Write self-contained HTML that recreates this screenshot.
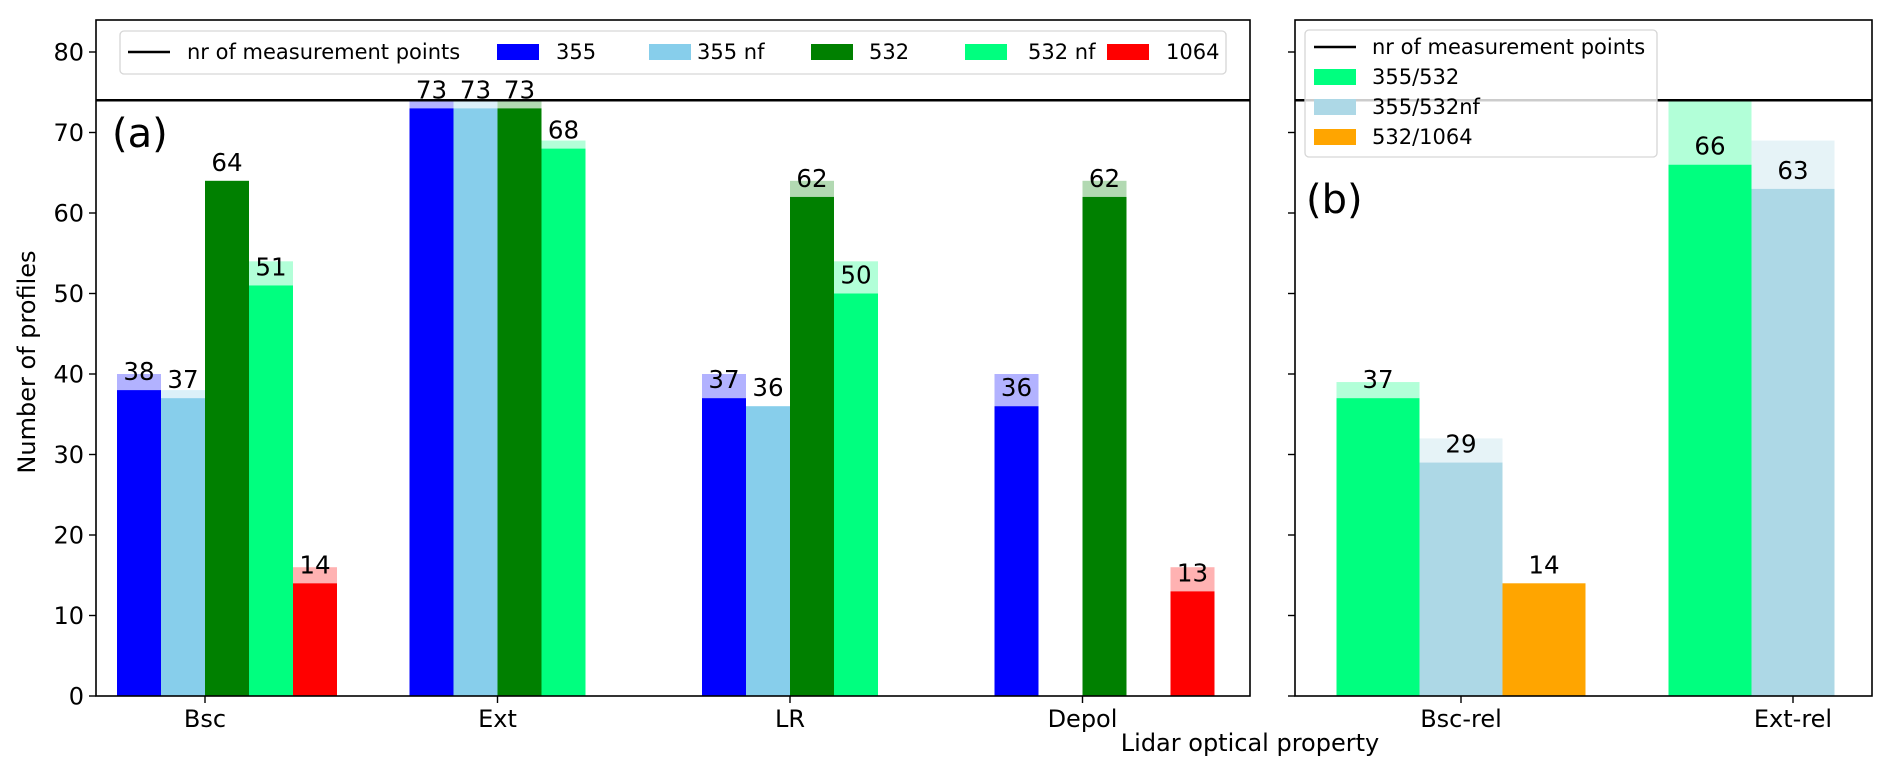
<!DOCTYPE html>
<html><head><meta charset="utf-8">
<style>
html,body{margin:0;padding:0;background:#fff;}
svg{display:block;font-family:"DejaVu Sans","Liberation Sans",sans-serif;}
</style></head>
<body>
<svg id="chart" width="1892" height="774" viewBox="0 0 1892 774" xmlns="http://www.w3.org/2000/svg"></svg>
<script>
// ---- data (panel a) ----
const categoriesA = ["Bsc", "Ext", "LR", "Depol"];
const seriesNamesA = ["355", "355 nf", "532", "532 nf", "1064"];
const solid355 = [38, 73, 37, 36];
const total355 = [40, 74, 40, 40];
const solid355nf = [37, 73, 36, null];
const total355nf = [38, 74, 36, null];
const solid532 = [64, 73, 62, 62];
const total532 = [64, 74, 64, 64];
const solid532nf = [51, 68, 50, null];
const total532nf = [54, 69, 54, null];
const solid1064 = [14, null, null, 13];
const total1064 = [16, null, null, 16];
// ---- data (panel b) ----
const categoriesB = ["Bsc-rel", "Ext-rel"];
const seriesNamesB = ["355/532", "355/532nf", "532/1064"];
const solidR1 = [37, 66];
const totalR1 = [39, 74];
const solidR2 = [29, 63];
const totalR2 = [32, 69];
const solidR3 = [14, null];
const totalR3 = [14, null];
const measurementPoints = 74;
const yTicks = [0, 10, 20, 30, 40, 50, 60, 70, 80];

const NS = "http://www.w3.org/2000/svg";
const svg = document.getElementById("chart");
function mk(tag, attrs, parent) {
  const e = document.createElementNS(NS, tag);
  for (const k in attrs) e.setAttribute(k, attrs[k]);
  (parent || svg).appendChild(e);
  return e;
}
const Y0 = 696, PX = 8.05;
function y(v) { return Y0 - v * PX; }
const axA = {l: 96, r: 1250, t: 20, b: 696};
const axB = {l: 1295, r: 1872, t: 20, b: 696};
function xA(i) { return 205 + i * 292.5; }
function xB(i) { return 1461 + i * 332; }

const colorsA = ["#0000ff", "#87ceeb", "#008000", "#00ff7f", "#ff0000"];
const colorsB = ["#00ff7f", "#add8e6", "#ffa500"];
const solidsA = [solid355, solid355nf, solid532, solid532nf, solid1064];
const totalsA = [total355, total355nf, total532, total532nf, total1064];
const solidsB = [solidR1, solidR2, solidR3];
const totalsB = [totalR1, totalR2, totalR3];

function drawBars(g, cats, solids, totals, colors, names, xf, w, off) {
  cats.forEach((c, ci) => {
    solids.forEach((s, si) => {
      if (s[ci] == null) return;
      const left = xf(ci) + (si + off) * w;
      const tot = totals[si][ci];
      if (tot != null && tot > s[ci]) {
        const f = mk("rect", {x: left, y: y(tot), width: w, height: y(s[ci]) - y(tot), fill: colors[si], "fill-opacity": 0.3}, g);
        
        
      }
      const r = mk("rect", {x: left, y: y(s[ci]), width: w, height: Y0 - y(s[ci]), fill: colors[si]}, g);
      
      
      const t = mk("text", {x: left + w / 2, y: y(s[ci]) - 10, "text-anchor": "middle", "font-size": 24.5, fill: "#000"}, g);
      t.textContent = s[ci];
      
      
    });
  });
}

const gA = mk("g", {});


drawBars(gA, categoriesA, solidsA, totalsA, colorsA, seriesNamesA, xA, 44, -2);
const gB = mk("g", {});


drawBars(gB, categoriesB, solidsB, totalsB, colorsB, seriesNamesB, xB, 83, -1.5);

[axA, axB].forEach(ax => {
  const l = mk("line", {x1: ax.l, x2: ax.r, y1: y(measurementPoints), y2: y(measurementPoints), stroke: "#000", "stroke-width": 2.5});
  
  
});

[axA, axB].forEach((ax, k) => {
  const f = mk("rect", {x: ax.l, y: ax.t, width: ax.r - ax.l, height: ax.b - ax.t, fill: "none", stroke: "#000", "stroke-width": 1.6});
  
  
  yTicks.forEach(v => {
    const tk = mk("line", {x1: ax.l - 7, x2: ax.l, y1: y(v), y2: y(v), stroke: "#000", "stroke-width": 1.4});
    
    
    if (k === 0) {
      const t = mk("text", {x: ax.l - 12, y: y(v) + 8.5, "text-anchor": "end", "font-size": 24});
      t.textContent = v;
      
      
    }
  });
});
function xTicks(cats, xf) {
  cats.forEach((c, i) => {
    const tk = mk("line", {x1: xf(i), x2: xf(i), y1: Y0, y2: Y0 + 7, stroke: "#000", "stroke-width": 1.4});
    
    
    const t = mk("text", {x: xf(i), y: 727, "text-anchor": "middle", "font-size": 24});
    t.textContent = c;
    
    
  });
}
xTicks(categoriesA, xA);
xTicks(categoriesB, xB);

let t = mk("text", {x: 1250, y: 751, "text-anchor": "middle", "font-size": 24});
t.textContent = "Lidar optical property";


t = mk("text", {x: 0, y: 0, "text-anchor": "middle", "font-size": 24, transform: "translate(35,362) rotate(-90)"});
t.textContent = "Number of profiles";


t = mk("text", {x: 112, y: 147, "font-size": 40});
t.textContent = "(a)";


t = mk("text", {x: 1306, y: 213, "font-size": 40});
t.textContent = "(b)";



const lgA = mk("g", {});


mk("rect", {x: 120, y: 31, width: 1106, height: 43, rx: 4, fill: "#fff", "fill-opacity": 0.85, stroke: "#d6d6d6", "stroke-width": 1.3}, lgA);
mk("line", {x1: 128, x2: 170, y1: 52, y2: 52, stroke: "#000", "stroke-width": 2.5}, lgA);
t = mk("text", {x: 187, y: 59, "font-size": 21}, lgA);
t.textContent = "nr of measurement points";


const legAx = [[497, 556], [649, 697], [811, 869], [965, 1028], [1107, 1166]];
seriesNamesA.forEach((n, i) => {
  mk("rect", {x: legAx[i][0], y: 44, width: 42, height: 16, fill: colorsA[i]}, lgA);
  const tt = mk("text", {x: legAx[i][1], y: 59, "font-size": 21}, lgA);
  tt.textContent = n;
  
  
});

const lgB = mk("g", {});


mk("rect", {x: 1305, y: 30, width: 352, height: 127, rx: 4, fill: "#fff", "fill-opacity": 0.8, stroke: "#d6d6d6", "stroke-width": 1.3}, lgB);
mk("line", {x1: 1314, x2: 1356, y1: 47, y2: 47, stroke: "#000", "stroke-width": 2.5}, lgB);
t = mk("text", {x: 1372, y: 54, "font-size": 21}, lgB);
t.textContent = "nr of measurement points";


seriesNamesB.forEach((n, i) => {
  const yy = 77 + i * 30;
  mk("rect", {x: 1314, y: yy - 8, width: 42, height: 16, fill: colorsB[i]}, lgB);
  const tt = mk("text", {x: 1372, y: yy + 7, "font-size": 21}, lgB);
  tt.textContent = n;
  
  
});
</script>
</body></html>
